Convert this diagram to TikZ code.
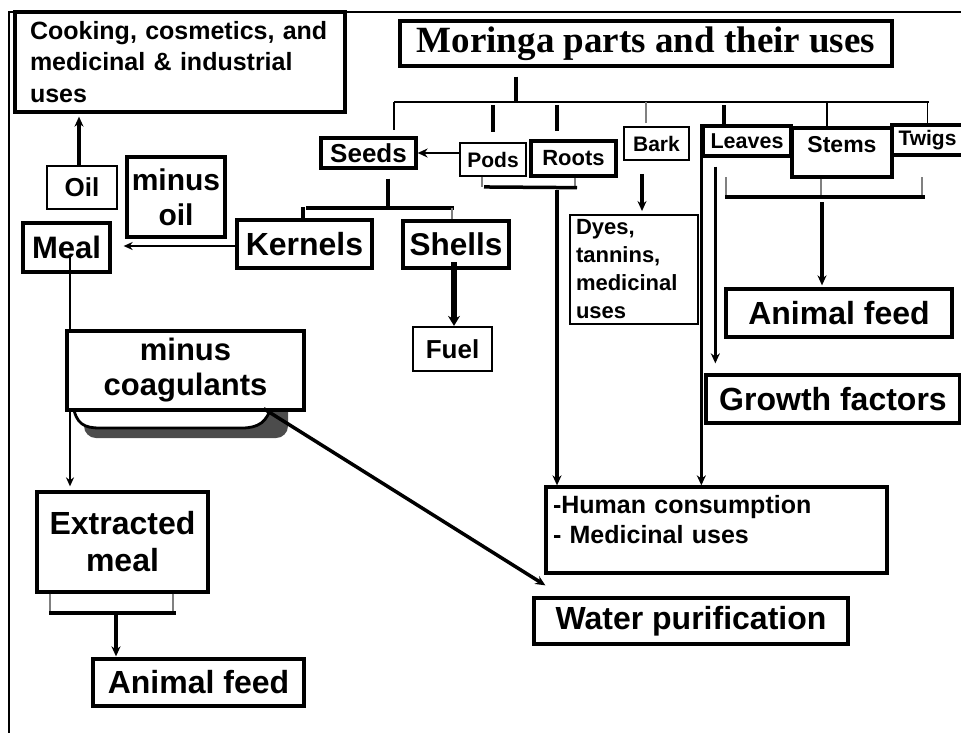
\documentclass[tikz,border=0pt]{standalone}
\usepackage{fontspec}
\setmainfont{Liberation Sans}
\newfontfamily\titlefont{Liberation Serif}
\usetikzlibrary{arrows.meta,calc}
\newcommand\fsz[2]{\fontsize{#1}{#2}\selectfont}
\begin{document}
\begin{tikzpicture}[x=1pt,y=-1pt,
  box/.style={draw, line width=3.3pt, fill=white, inner sep=0pt, align=center, font=\bfseries},
  tbox/.style={box, line width=1.9pt},
  thk/.style={line width=3.5pt},
  thn/.style={line width=1.5pt},
  gry/.style={line width=1.4pt, draw=black!50},
  arr/.style={-{Stealth[length=10pt,width=9pt]}}]
\useasboundingbox (0,0) rectangle (961,732);
% frame
\draw[line width=1.8pt] (9,735) -- (9,12) -- (965,12);

% nodes
\node[box, minimum width=330pt, minimum height=100pt, text width=300pt, inner xsep=15pt, align=left, font=\bfseries\fsz{25}{31.5}] (cook) at (180,62) {Cooking, cosmetics, and\\medicinal \& industrial\\uses};
\node[box, minimum width=492pt, minimum height=45pt, font=\titlefont\bfseries\fsz{37}{40}] (title) at (646,43.5) {Moringa parts and their uses};
\node[box, minimum width=95pt, minimum height=30pt, font=\bfseries\fsz{26}{30}] (seeds) at (368.5,153) {Seeds};
\node[tbox, minimum width=66pt, minimum height=33pt, font=\bfseries\fsz{21}{25}] (pods) at (493,159.5) {Pods};
\node[box, minimum width=85pt, minimum height=35pt, font=\bfseries\fsz{22}{26}] (roots) at (573.5,158.5) {Roots};
\node[tbox, minimum width=65pt, minimum height=33pt, font=\bfseries\fsz{21}{25}] (bark) at (656.5,143.5) {Bark};
\node[box, minimum width=88pt, minimum height=30pt, font=\bfseries\fsz{21.5}{25}] (leaves) at (747,141) {Leaves};
\node[box, minimum width=100pt, minimum height=49pt, text depth=16pt, font=\bfseries\fsz{23}{27}] (stems) at (842,152.5) {Stems};
\node[box, minimum width=71pt, minimum height=30pt, font=\bfseries\fsz{21}{25}] (twigs) at (927.5,140) {Twigs};
\node[tbox, minimum width=128pt, minimum height=109pt, text width=116pt, inner xsep=6pt, align=left, font=\bfseries\fsz{22}{28}] (dyes) at (634,269.5) {Dyes,\\tannins,\\medicinal\\uses};
\node[box, minimum width=226pt, minimum height=48pt, font=\bfseries\fsz{32}{36}] (animalR) at (839,313) {Animal feed};
\node[box, minimum width=254pt, minimum height=48pt, font=\bfseries\fsz{32}{36}] (growth) at (833,399) {Growth factors};
\node[box, minimum width=341pt, minimum height=86pt, text width=327pt, inner xsep=7pt, align=left, text depth=52pt, font=\bfseries\fsz{25}{30}] (human) at (716.5,530) {-Human consumption\\- Medicinal uses};
\node[box, minimum width=314pt, minimum height=46pt, font=\bfseries\fsz{32}{36}] (water) at (691,621) {Water purification};
\node[tbox, minimum width=70pt, minimum height=43pt, font=\bfseries\fsz{26}{30}] (oil) at (82,187.5) {Oil};
\node[box, minimum width=98pt, minimum height=80pt, font=\bfseries\fsz{30}{35}] (minusoil) at (176,197) {minus\\oil};
\node[box, minimum width=87pt, minimum height=49pt, font=\bfseries\fsz{31}{35}] (meal) at (66.5,247.5) {Meal};
\node[box, minimum width=135pt, minimum height=48pt, font=\bfseries\fsz{32}{36}] (kernels) at (304.5,244) {Kernels};
\node[box, minimum width=106pt, minimum height=47pt, font=\bfseries\fsz{31.5}{36}] (shells) at (456,244.5) {Shells};
\node[tbox, line width=2.2pt, minimum width=79pt, minimum height=44pt, font=\bfseries\fsz{26}{30}] (fuel) at (452.5,349) {Fuel};
\node[box, minimum width=171pt, minimum height=100pt, font=\bfseries\fsz{32}{37}] (extracted) at (122.5,542) {Extracted\\meal};
\node[box, minimum width=211pt, minimum height=47pt, font=\bfseries\fsz{32}{36}] (animalL) at (198.5,682.5) {Animal feed};

% tree under the title
\coordinate (bus) at (516,102);
\coordinate (busL) at (394,102);
\coordinate (busR) at (929,102);
\coordinate (rootline) at (557,102);
\draw[thk, shorten <=9pt] (bus |- title.south) -- (bus);
\draw[thn] (busL) -- (busR);
\draw[thn, shorten >=6pt] (busL) -- (busL |- seeds.north);
\draw[thk, shorten <=3pt, shorten >=10pt] (pods.north |- bus) -- (pods.north);
\draw[thk, shorten <=3pt, shorten >=8pt] (rootline) -- (rootline |- roots.north);
\draw[gry, shorten <=3pt] ($(bark.north)+(-10.5,0)$) coordinate (bk) -- (bk |- bus);
\draw[thk, shorten >=3pt] ($(leaves.north)+(-23,0)$) coordinate (lv) -- (lv |- bus);
\draw[thn] ($(stems.north)+(-15,0)$) coordinate (st) -- (st |- bus);
\draw[thn] (twigs.north) -- (twigs.north |- bus);

% seeds / pods / roots
\draw[line width=2.8pt, arr] (pods.west |- seeds.east) -- (seeds.east);
\draw[gry] ($(pods.south)+(-11,0)$) -- ++(0,10);
\draw[gry] ($(roots.south)+(1.5,0)$) -- ++(0,10);
\draw[thk] ($(pods.south)+(-9,10)$) -- ($(roots.south)+(3.5,10)$);
\draw[thk, arr, shorten <=88pt] (rootline) -- (rootline |- human.north);

\draw[thk] ($(seeds.south)+(19.5,9)$) -- ($(seeds.south)+(19.5,40)$) coordinate (sj);
\draw[thk] (306,208) -- (454,208);
\draw[thk] (303,207) -- (303,222);
\draw[gry] (452,208) -- (shells.north -| 452,0);
\draw[line width=5.5pt, -{Stealth[length=10pt,width=12pt]}] (454,262) -- (fuel.north -| 454,0);
\draw[line width=2.3pt, -{Stealth[length=9pt,width=8pt]}] (kernels.west |- 0,246) -- ($(meal.east |- 0,246)+(12,0)$);

% oil
\draw[thk, arr, shorten >=3pt] ($(oil.north)+(-3,0)$) -- ($(oil.north |- cook.south)+(-3,0)$);

% bark
\draw[thk, arr, shorten >=3pt] ($(bark.south)+(-14.5,13)$) -- ($(bark.south |- dyes.north)+(-14.5,0)$);

% leaves
\draw[thk, arr] (leaves.north west) -- (leaves.north west |- human.north);
\draw[thk, arr, shorten >=10pt] ($(leaves.south west)+(14,9)$) -- ($(leaves.south west |- growth.north)+(14,0)$);

% stems & twigs bracket
\draw[gry] (726,177) -- (726,197);
\draw[gry] (stems.south -| 821,0) -- (821,197);
\draw[gry] (922,177) -- (922,197);
\draw[thk] (725,197) -- (925,197);
\draw[thk, arr, shorten <=5pt, shorten >=2pt] (822,197) -- (animalR.north -| 822,0);

% extracted meal bracket
\draw[gry] (extracted.south -| 50,0) -- (50,613);
\draw[gry] (extracted.south -| 173,0) -- (173,613);
\draw[thk] (49,613) -- (176,613);
\draw[thk, arr, shorten >=1pt] (116,613) -- (animalL.north -| 116,0);

% meal to extracted meal (passes behind minus coagulants)
\draw[line width=2.3pt, -{Stealth[length=9pt,width=8pt]}, shorten >=4pt] (70,255) -- (extracted.north -| 70,0);

% minus coagulants with its tray shadow
\fill[black!70, rounded corners=12pt] (84,398) rectangle (288,438);
\draw[line width=2.8pt, fill=white] (73,405) .. controls (76,424) and (84,428) .. (100,428) -- (242,428) .. controls (258,428) and (268,422) .. (271,405);
\node[box, minimum width=237pt, minimum height=79pt, font=\bfseries\fsz{31}{35}] (coag) at (185.5,370.5) {minus\\coagulants};
\draw[thk, arr] ($(coag.south east)+(-42,-3)$) -- ($(water.north west)+(13,-11)$);
\end{tikzpicture}
\end{document}
